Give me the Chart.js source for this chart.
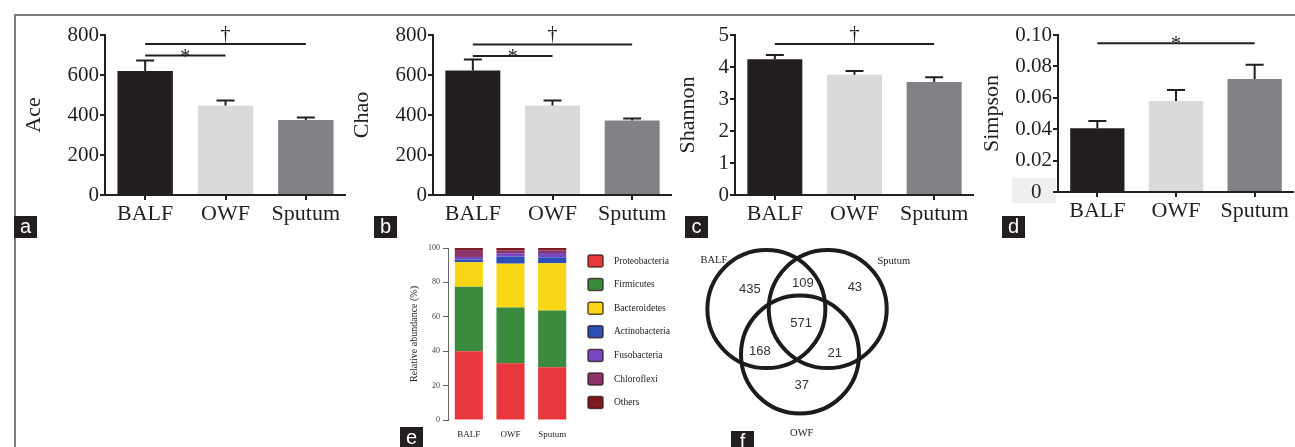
<!DOCTYPE html>
<html>
<head>
<meta charset="utf-8">
<script src="https://cdn.jsdelivr.net/npm/chart.js@4.4.0/dist/chart.umd.min.js"></script>
<style>
  body { margin: 0; background: #fff; width: 1295px; height: 447px; overflow: hidden; position: relative; }
  .frame { position: absolute; left: 14px; top: 14px; width: 1300px; height: 450px; border-top: 2px solid #7a7a7a; border-left: 2px solid #7a7a7a; }
  canvas { position: absolute; }
  .tag { position: absolute; width: 23px; height: 22px; background: #231f20; color: #fff; z-index: 5;
         font: 20px 'Liberation Sans', Arial, sans-serif; text-align: center; line-height: 20px; }
</style>
</head>
<body>
<div class="frame"></div>
<canvas id="ace" width="330" height="219" style="left:16px;top:16px"></canvas>
<canvas id="chao" width="326" height="219" style="left:346px;top:16px"></canvas>
<canvas id="shannon" width="300" height="219" style="left:674px;top:16px"></canvas>
<canvas id="simpson" width="318" height="216" style="left:976px;top:16px"></canvas>
<canvas id="phyla" width="280" height="207" style="left:400px;top:240px"></canvas>
<canvas id="venn" width="260" height="207" style="left:680px;top:240px"></canvas>
<div class="tag" style="left:14px;top:216px">a</div>
<div class="tag" style="left:374px;top:216px">b</div>
<div class="tag" style="left:685px;top:216px">c</div>
<div class="tag" style="left:1002px;top:216px">d</div>
<div class="tag" style="left:400px;top:427px">e</div>
<div class="tag" style="left:731px;top:431px">f</div>
<script>
const ink = '#231f20';
const serif = "'Liberation Serif', 'Times New Roman', serif";

// alpha diversity (mean + SEM), same three groups everywhere
const groups = ['BALF', 'OWF', 'Sputum'];
const groupColors = ['#231f20', '#d9dadb', '#808285'];

const aceMean = [620, 448, 375];
const aceSem = [52, 24, 12];
const aceTicks = [0, 200, 400, 600, 800];
const aceSig = [[0, 1, 697, '*'], [0, 2, 755, '†']];

const chaoMean = [622, 447, 372];
const chaoSem = [56, 25, 11];
const chaoTicks = [0, 200, 400, 600, 800];
const chaoSig = [[0, 1, 695, '*'], [0, 2, 753, '†']];

const shannonMean = [4.24, 3.76, 3.53];
const shannonSem = [0.135, 0.115, 0.15];
const shannonTicks = [0, 1, 2, 3, 4, 5];
const shannonSig = [[0, 2, 4.72, '†']];

const simpsonMean = [0.0406, 0.058, 0.072];
const simpsonSem = [0.0046, 0.007, 0.009];
const simpsonTicks = [0, 0.02, 0.04, 0.06, 0.08, 0.10];
const simpsonTickLabels = ['0', '0.02', '0.04', '0.06', '0.08', '0.10'];
const simpsonSig = [[0, 2, 0.0947, '*']];

// relative abundance (%) per phylum, BALF / OWF / Sputum
const phyla = ['Proteobacteria', 'Firmicutes', 'Bacteroidetes', 'Actinobacteria', 'Fusobacteria', 'Chloroflexi', 'Others'];
const phylaColors = ['#e8373d', '#3a8b3e', '#f9d616', '#2b4fb5', '#7848c0', '#8a3468', '#7c1a1f'];
const proteobacteria = [40, 33, 30.7];
const firmicutes = [37.5, 32.4, 33];
const bacteroidetes = [14.2, 25.5, 27.4];
const actinobacteria = [1.6, 4.1, 3.5];
const fusobacteria = [1.5, 2, 2.5];
const chloroflexi = [4, 1.5, 1.5];
const others = [1.2, 1.5, 1.4];
const abundanceTicks = [0, 20, 40, 60, 80, 100];

// shared OTUs (venn), circle radius = 1 unit
const vennSets = ['BALF', 'Sputum', 'OWF'];
const vennCenters = [[-0.57, 0.27], [0.47, 0.27], [0, -0.5]];
const vennCounts = [435, 109, 43, 571, 168, 21, 37];
const vennCountPos = [[-0.85, 0.61], [0.05, 0.71], [0.93, 0.63], [0.02, 0.03], [-0.68, -0.44], [0.59, -0.49], [0.03, -1.02]];
const vennSetPos = [[-1.46, 1.1], [1.59, 1.08], [0.03, -1.83]];
const vennX = [-2.034, 2.373];
const vennY = [-2.068, 1.441];


function makeExtras(cfg) {
    return {
        id: 'extras',
        beforeDraw(chart) {
            if (!cfg.zeroBox) return
            const ctx = chart.ctx
            const y0 = chart.scales.y.getPixelForValue(0)
            const left = chart.chartArea.left
            ctx.save()
            ctx.fillStyle = '#efefef'
            ctx.fillRect(left - 46, y0 - 14, 44, 25)
            ctx.restore()
        },
        afterDatasetsDraw(chart) {
            const ctx = chart.ctx
            const xs = chart.scales.x
            const ys = chart.scales.y
            ctx.save()
            ctx.strokeStyle = ink
            ctx.lineWidth = 2
            // error bars, upper side only
            chart.getDatasetMeta(0).data.forEach((bar, i) => {
                const top = ys.getPixelForValue(cfg.mean[i] + cfg.sem[i])
                ctx.beginPath()
                ctx.moveTo(bar.x, bar.y)
                ctx.lineTo(bar.x, top)
                ctx.moveTo(bar.x - 9, top)
                ctx.lineTo(bar.x + 9, top)
                ctx.stroke()
            })
            // significance brackets
            ctx.fillStyle = ink
            ctx.font = '20px ' + serif
            ctx.textAlign = 'center'
            cfg.sig.forEach(([a, b, v, mark]) => {
                const y = ys.getPixelForValue(v)
                const x1 = xs.getPixelForValue(a)
                const x2 = xs.getPixelForValue(b)
                ctx.beginPath()
                ctx.moveTo(x1, y)
                ctx.lineTo(x2, y)
                ctx.stroke()
                ctx.fillText(mark, (x1 + x2) / 2, mark === '*' ? y + 7 : y - 4)
            })
            ctx.restore()
        }
    }
}

function barPanel(id, cfg) {
    return new Chart(document.getElementById(id), {
        type: 'bar',
        data: {
            labels: groups,
            datasets: [{
                data: cfg.mean,
                backgroundColor: groupColors,
                categoryPercentage: 1,
                barPercentage: 0.69
            }]
        },
        options: {
            responsive: false,
            animation: false,
            layout: { padding: { top: cfg.padTop, left: 0, right: 0, bottom: 0 } },
            plugins: { legend: { display: false }, tooltip: { enabled: false } },
            scales: {
                x: {
                    grid: { offset: false, drawOnChartArea: false, tickLength: 5, color: ink, lineWidth: 2 },
                    border: { color: ink, width: 2 },
                    ticks: { font: { family: serif, size: 22 }, color: ink, padding: 1 },
                    afterFit: s => { s.height = cfg.xh }
                },
                y: {
                    min: 0,
                    max: cfg.ticks[cfg.ticks.length - 1],
                    afterBuildTicks: s => { s.ticks = cfg.ticks.map(v => ({ value: v })) },
                    grid: { drawOnChartArea: false, tickLength: 5, color: ink, lineWidth: 2 },
                    border: { color: ink, width: 2 },
                    ticks: {
                        font: { family: serif, size: 21 },
                        color: ink,
                        padding: 1,
                        callback: (v, i) => {
                            let t = cfg.labels ? cfg.labels[i] : String(v)
                            if (cfg.zeroBox && v === 0) t = t + '\u2002'
                            return t
                        }
                    },
                    title: {
                        display: true,
                        text: cfg.title,
                        color: ink,
                        font: { family: serif, size: 22 },
                        padding: { top: cfg.titlePad, bottom: 0 }
                    },
                    afterFit: s => { s.width = cfg.yw }
                }
            }
        },
        plugins: [makeExtras(cfg)]
    })
}

barPanel('ace', { mean: aceMean, sem: aceSem, ticks: aceTicks, sig: aceSig, title: 'Ace',
    padTop: 19, xh: 40, yw: 89, titlePad: 5 })
barPanel('chao', { mean: chaoMean, sem: chaoSem, ticks: chaoTicks, sig: chaoSig, title: 'Chao',
    padTop: 19, xh: 40, yw: 87, titlePad: 3 })
barPanel('shannon', { mean: shannonMean, sem: shannonSem, ticks: shannonTicks, sig: shannonSig, title: 'Shannon',
    padTop: 19, xh: 40, yw: 61, titlePad: 1 })
barPanel('simpson', { mean: simpsonMean, sem: simpsonSem, ticks: simpsonTicks, labels: simpsonTickLabels,
    sig: simpsonSig, title: 'Simpson', padTop: 19, xh: 40, yw: 82, titlePad: 3, zeroBox: true })


// STACKED BAR (e)
const phylaValues = [proteobacteria, firmicutes, bacteroidetes, actinobacteria, fusobacteria, chloroflexi, others]

const phylaLegend = {
    id: 'phylaLegend',
    afterDraw(chart) {
        const ctx = chart.ctx
        const x0 = chart.chartArea.right + 15
        const y0 = chart.chartArea.top + 13
        ctx.save()
        ctx.font = '9.5px ' + serif
        ctx.textBaseline = 'middle'
        chart.data.datasets.forEach((ds, i) => {
            const y = y0 + i * 23.6
            ctx.fillStyle = ds.backgroundColor
            ctx.strokeStyle = 'rgba(40,20,20,0.75)'
            ctx.lineWidth = 1.5
            ctx.beginPath()
            ctx.roundRect(x0, y - 6, 15, 12, 2)
            ctx.fill()
            ctx.stroke()
            ctx.fillStyle = '#222'
            ctx.fillText(ds.label, x0 + 26, y)
        })
        ctx.restore()
    }
}

new Chart(document.getElementById('phyla'), {
    type: 'bar',
    data: {
        labels: groups,
        datasets: phyla.map((name, i) => ({
            label: name,
            data: phylaValues[i],
            backgroundColor: phylaColors[i],
            categoryPercentage: 1,
            barPercentage: 0.675
        }))
    },
    options: {
        responsive: false,
        animation: false,
        layout: { padding: { top: 8, right: 107, left: 0, bottom: 0 } },
        plugins: { legend: { display: false }, tooltip: { enabled: false } },
        scales: {
            x: {
                stacked: true,
                grid: { display: false },
                border: { display: false },
                ticks: { font: { family: serif, size: 9 }, color: '#222', padding: 1 },
                afterFit: s => { s.height = 27 }
            },
            y: {
                stacked: true,
                min: 0,
                max: 100,
                afterBuildTicks: s => { s.ticks = abundanceTicks.map(v => ({ value: v })) },
                grid: { drawOnChartArea: false, tickLength: 5, color: '#666', lineWidth: 1 },
                border: { color: '#666', width: 1 },
                ticks: { font: { family: serif, size: 8 }, color: '#444', padding: 3 },
                title: {
                    display: true,
                    text: 'Relative abundance (%)',
                    color: '#222',
                    font: { family: serif, size: 10 },
                    padding: { top: 8, bottom: 0 }
                },
                afterFit: s => { s.width = 48 }
            }
        }
    },
    plugins: [phylaLegend]
})


// VENN (f)
const vennText = {
    id: 'vennText',
    afterDatasetsDraw(chart) {
        const ctx = chart.ctx
        const xs = chart.scales.x
        const ys = chart.scales.y
        ctx.save()
        ctx.textAlign = 'center'
        ctx.textBaseline = 'middle'
        ctx.fillStyle = '#333'
        ctx.font = "13px 'Liberation Sans', Arial, sans-serif"
        vennCounts.forEach((n, i) => {
            ctx.fillText(String(n), xs.getPixelForValue(vennCountPos[i][0]), ys.getPixelForValue(vennCountPos[i][1]))
        })
        ctx.fillStyle = '#222'
        ctx.font = '10.5px ' + serif
        vennSets.forEach((name, i) => {
            ctx.fillText(name, xs.getPixelForValue(vennSetPos[i][0]), ys.getPixelForValue(vennSetPos[i][1]))
        })
        ctx.restore()
    }
}

new Chart(document.getElementById('venn'), {
    type: 'bubble',
    data: {
        datasets: [{
            data: vennCenters.map(c => ({ x: c[0], y: c[1] })),
            backgroundColor: 'rgba(0,0,0,0)',
            borderColor: '#1c1c1c',
            borderWidth: 4,
            hoverBorderWidth: 4,
            clip: false,
            // 1 unit of the x range, in pixels (no padding, hidden axes)
            radius: ctx => ctx.chart.width / (vennX[1] - vennX[0])
        }]
    },
    options: {
        responsive: false,
        animation: false,
        events: [],
        layout: { autoPadding: false, padding: 0 },
        plugins: { legend: { display: false }, tooltip: { enabled: false } },
        scales: {
            x: { type: 'linear', display: false, min: vennX[0], max: vennX[1] },
            y: { type: 'linear', display: false, min: vennY[0], max: vennY[1] }
        }
    },
    plugins: [vennText]
})
</script>
</body>
</html>
